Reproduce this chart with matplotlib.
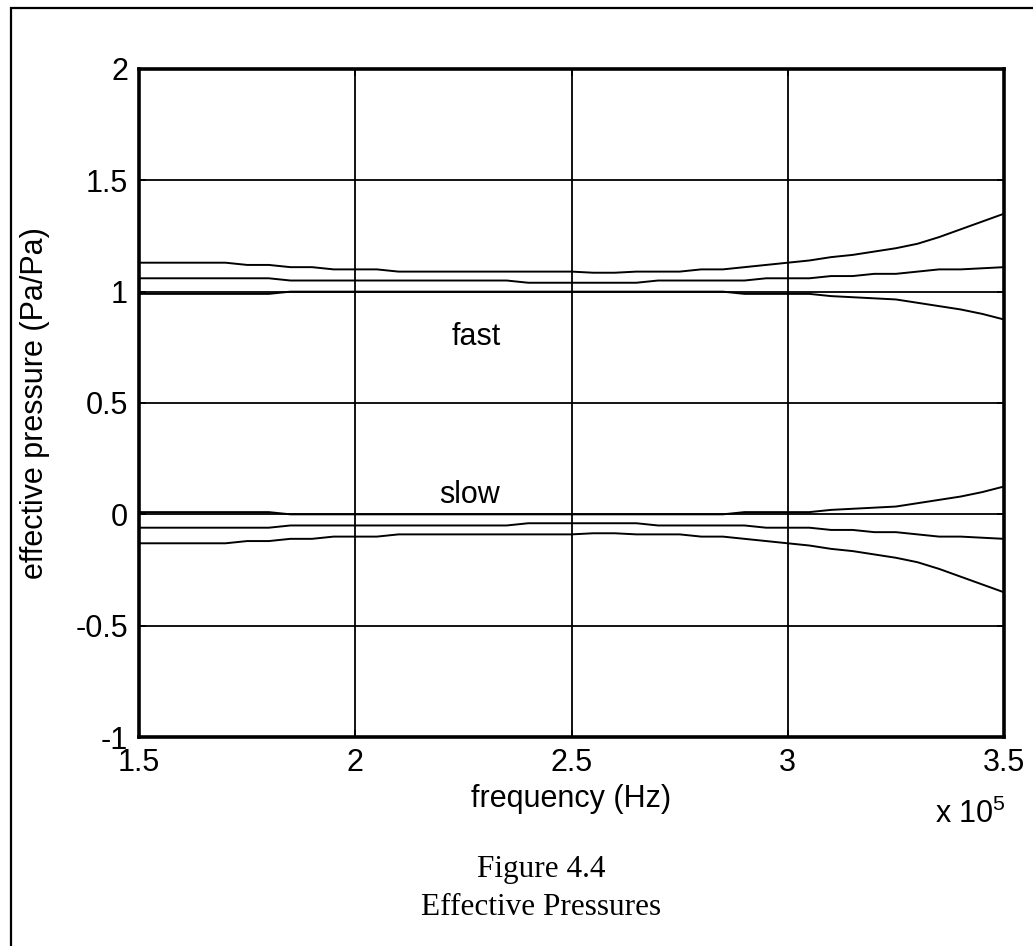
import numpy as np
import matplotlib
matplotlib.use("Agg")
import matplotlib.pyplot as plt
from matplotlib.patches import Rectangle
from matplotlib.ticker import FuncFormatter

# frequency samples every 5 kHz, 150 kHz .. 350 kHz
freq = np.arange(150e3, 350e3 + 1, 5e3)

# fast wave, three curves
fast_a = [1.13, 1.13, 1.13, 1.13, 1.13, 1.12, 1.12, 1.11, 1.11, 1.10,
          1.10, 1.10, 1.09, 1.09, 1.09, 1.09, 1.09, 1.09, 1.09, 1.09,
          1.09, 1.085, 1.085, 1.09, 1.09, 1.09, 1.10, 1.10, 1.11, 1.12,
          1.13, 1.14, 1.155, 1.165, 1.18, 1.195, 1.215, 1.245, 1.28, 1.315,
          1.35]
fast_b = [1.06, 1.06, 1.06, 1.06, 1.06, 1.06, 1.06, 1.05, 1.05, 1.05,
          1.05, 1.05, 1.05, 1.05, 1.05, 1.05, 1.05, 1.05, 1.04, 1.04,
          1.04, 1.04, 1.04, 1.04, 1.05, 1.05, 1.05, 1.05, 1.05, 1.06,
          1.06, 1.06, 1.07, 1.07, 1.08, 1.08, 1.09, 1.10, 1.10, 1.105,
          1.11]
fast_c = [0.99, 0.99, 0.99, 0.99, 0.99, 0.99, 0.99, 1.00, 1.00, 1.00,
          1.00, 1.00, 1.00, 1.00, 1.00, 1.00, 1.00, 1.00, 1.00, 1.00,
          1.00, 1.00, 1.00, 1.00, 1.00, 1.00, 1.00, 1.00, 0.99, 0.99,
          0.99, 0.99, 0.98, 0.975, 0.97, 0.965, 0.95, 0.935, 0.92, 0.90,
          0.875]

# slow wave, three curves
slow_d = [0.01, 0.01, 0.01, 0.01, 0.01, 0.01, 0.01, 0.00, 0.00, 0.00,
          0.00, 0.00, 0.00, 0.00, 0.00, 0.00, 0.00, 0.00, 0.00, 0.00,
          0.00, 0.00, 0.00, 0.00, 0.00, 0.00, 0.00, 0.00, 0.01, 0.01,
          0.01, 0.01, 0.02, 0.025, 0.03, 0.035, 0.05, 0.065, 0.08, 0.10,
          0.125]
slow_e = [-0.06, -0.06, -0.06, -0.06, -0.06, -0.06, -0.06, -0.05, -0.05, -0.05,
          -0.05, -0.05, -0.05, -0.05, -0.05, -0.05, -0.05, -0.05, -0.04, -0.04,
          -0.04, -0.04, -0.04, -0.04, -0.05, -0.05, -0.05, -0.05, -0.05, -0.06,
          -0.06, -0.06, -0.07, -0.07, -0.08, -0.08, -0.09, -0.10, -0.10, -0.105,
          -0.11]
slow_f = [-0.13, -0.13, -0.13, -0.13, -0.13, -0.12, -0.12, -0.11, -0.11, -0.10,
          -0.10, -0.10, -0.09, -0.09, -0.09, -0.09, -0.09, -0.09, -0.09, -0.09,
          -0.09, -0.085, -0.085, -0.09, -0.09, -0.09, -0.10, -0.10, -0.11, -0.12,
          -0.13, -0.14, -0.155, -0.165, -0.18, -0.195, -0.215, -0.245, -0.28, -0.315,
          -0.35]

x_ticks = [1.5e5, 2.0e5, 2.5e5, 3.0e5, 3.5e5]
y_ticks = [-1, -0.5, 0, 0.5, 1, 1.5, 2]

plt.rcParams['font.family'] = ['Liberation Sans', 'DejaVu Sans']
plt.rcParams['mathtext.default'] = 'regular'

fig = plt.figure(figsize=(10.33, 9.46), dpi=100)
ax = fig.add_axes([0.1346, 0.2209, 0.8373, 0.7062])

for y in [fast_a, fast_b, fast_c, slow_d, slow_e, slow_f]:
    ax.plot(freq, y, color='black', lw=1.4, zorder=3)

ax.set_xlim(1.5e5, 3.5e5)
ax.set_ylim(-1, 2)
ax.set_xticks(x_ticks)
ax.set_yticks(y_ticks)
ax.xaxis.set_major_formatter(FuncFormatter(lambda v, p: f"{v / 1e5:g}"))
ax.yaxis.set_major_formatter(FuncFormatter(lambda v, p: f"{v:g}"))
ax.grid(True, color='black', lw=1.3, ls='-')
ax.tick_params(direction='in', length=5, width=1.3, labelsize=22, pad=8,
               top=True, right=True)
for s in ax.spines.values():
    s.set_linewidth(2.6)

ax.set_xlabel("frequency (Hz)", fontsize=22, labelpad=4)
ax.set_ylabel("effective pressure (Pa/Pa)", fontsize=22, labelpad=18)

ax.text(2.28e5, 0.76, "fast", fontsize=22, ha='center', va='baseline')
ax.text(2.265e5, 0.052, "slow", fontsize=22, ha='center', va='baseline')

# exponent of the frequency axis
fig.text(935 / 1033, 1 - 823 / 946, r"x 10$^5$", fontsize=22,
         ha='left', va='baseline')

# caption under the plot
fig.text(541 / 1033, 1 - 877 / 946, "Figure 4.4", fontsize=22.5,
         family='Liberation Serif', ha='center', va='baseline')
fig.text(541 / 1033, 1 - 915 / 946, "Effective Pressures", fontsize=22.5,
         family='Liberation Serif', ha='center', va='baseline')

# page frame
fig.patches.append(Rectangle((10.5 / 1033, -0.05), 1.1, 1 - 8 / 946 + 0.05,
                             transform=fig.transFigure, fill=False,
                             edgecolor='black', lw=1.6))

fig.savefig("out.png", dpi=100)
